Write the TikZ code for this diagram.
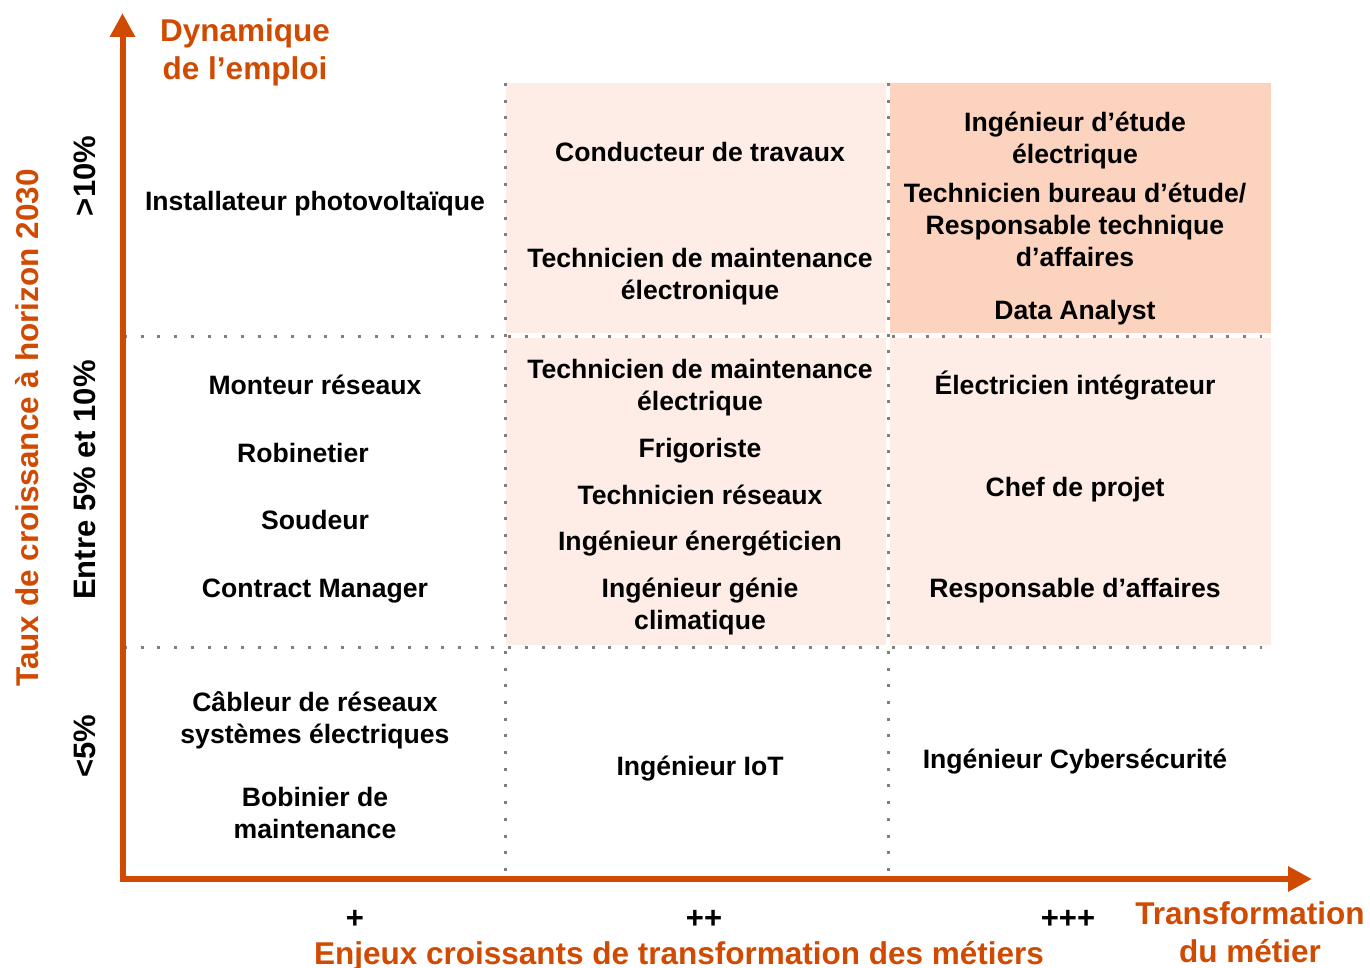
\documentclass[tikz,border=0pt]{standalone}
\usepackage{fontspec}
\setmainfont{Liberation Sans}
\usetikzlibrary{arrows.meta}
\definecolor{pwcorange}{HTML}{D04A02}
\definecolor{lightpeach}{HTML}{FEEDE6}
\definecolor{darkpeach}{HTML}{FBD3BE}
\definecolor{dotgray}{HTML}{7F7F7F}
\begin{document}
\begin{tikzpicture}[x=1pt,y=-1pt,
  cell/.style={font=\fontsize{26.6}{32}\selectfont\bfseries, align=center, inner sep=0pt, text=black,
    execute at begin node=\strut, execute at end node=\strut},
  axislabel/.style={font=\fontsize{31.5}{38}\selectfont\bfseries, text=pwcorange, align=center, inner sep=0pt,
    execute at begin node=\strut, execute at end node=\strut},
  ratelabel/.style={font=\fontsize{31}{37}\selectfont\bfseries, rotate=90, inner sep=0pt, text=black},
  gridline/.style={dotgray, line width=3pt, dash pattern=on 3pt off 13.7pt},
  axisarrow/.style={pwcorange, line width=6pt, -{Triangle[width=24pt,length=24pt]}},
  plusmark/.style={font=\fontsize{31}{36}\selectfont\bfseries, inner sep=0pt, text=black},
]
\useasboundingbox (0,0) rectangle (1370,968);

% cell fills
\fill[lightpeach] (506,83) rectangle (886,333);
\fill[darkpeach] (890,83) rectangle (1271,333);
\fill[lightpeach] (506,338) rectangle (886,645);
\fill[lightpeach] (890,338) rectangle (1271,645);

% dotted grid
\coordinate (v1top) at (505,83);
\coordinate (v1bot) at (505,879);
\coordinate (v2top) at (888,83);
\coordinate (v2bot) at (888,879);
\coordinate (h1l) at (124,336);
\coordinate (h1r) at (1262,336);
\coordinate (h2l) at (124,647);
\coordinate (h2r) at (1262,647);
\draw[gridline] (v1top) -- (v1bot);
\draw[gridline] (v2top) -- (v2bot);
\draw[gridline] (h1l) -- (h1r);
\draw[gridline] (h2l) -- (h2r);

% axes
\coordinate (ystart) at (122.5,882);
\coordinate (ytip) at (122.5,13);
\coordinate (xstart) at (119.5,879);
\coordinate (xtip) at (1312,879);
\draw[axisarrow] (ystart) -- (ytip);
\draw[axisarrow] (xstart) -- (xtip);

% axis titles
\node[axislabel] (dyn) at (245,54.5) {Dynamique\\de l’emploi};
\node[axislabel, rotate=90] (taux) at (31,428) {Taux de croissance à horizon 2030};
\node[axislabel] (enjeux) at (679,957) {Enjeux croissants de transformation des métiers};
\node[axislabel] (transf) at (1250,937.5) {Transformation\\du métier};

% rate labels
\node[ratelabel] (r1) at (85,176) {>10\%};
\node[ratelabel] (r2) at (85,480) {Entre 5\% et 10\%};
\node[ratelabel] (r3) at (85,746) {<5\%};

% plus marks
\node[plusmark] (p1) at (355,919) {+};
\node[plusmark] (p2) at (704,919) {++};
\node[plusmark] (p3) at (1068,919) {+++};

% column 1
\node[cell] (c11) at (315,204) {Installateur photovoltaïque};
\node[cell] (c21) at (315,388) {Monteur réseaux};
\node[cell] (c22) at (303,456) {Robinetier};
\node[cell] (c23) at (315,523) {Soudeur};
\node[cell] (c24) at (315,591) {Contract Manager};
\node[cell] (c31) at (315,722) {Câbleur de réseaux\\systèmes électriques};
\node[cell] (c32) at (315,818) {Bobinier de\\maintenance};

% column 2
\node[cell] (m11) at (700,155) {Conducteur de travaux};
\node[cell] (m12) at (700,279) {Technicien de maintenance\\électronique};
\node[cell] (m21) at (700,390) {Technicien de maintenance\\électrique};
\node[cell] (m22) at (700,451) {Frigoriste};
\node[cell] (m23) at (700,498) {Technicien réseaux};
\node[cell] (m24) at (700,544) {Ingénieur énergéticien};
\node[cell] (m25) at (700,609) {Ingénieur génie\\climatique};
\node[cell] (m31) at (700,769) {Ingénieur IoT};

% column 3
\node[cell] (t11) at (1075,143) {Ingénieur d’étude\\électrique};
\node[cell] (t12) at (1075,230) {Technicien bureau d’étude/\\Responsable technique\\d’affaires};
\node[cell] (t13) at (1075,313) {Data Analyst};
\node[cell] (t21) at (1075,388) {Électricien intégrateur};
\node[cell] (t22) at (1075,490) {Chef de projet};
\node[cell] (t23) at (1075,591) {Responsable d’affaires};
\node[cell] (t31) at (1075,762) {Ingénieur Cybersécurité};
\end{tikzpicture}
\end{document}
